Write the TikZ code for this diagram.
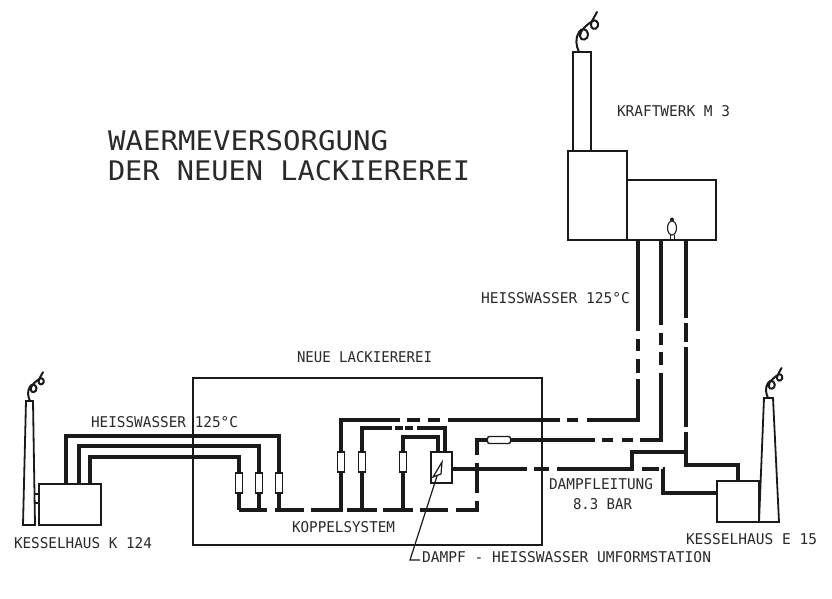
\documentclass[tikz,border=0pt]{standalone}
\usepackage{graphicx}
\usepackage{fontspec}
\setmainfont{DejaVu Sans Mono}
\usetikzlibrary{calc,shapes.geometric}
\definecolor{ink}{HTML}{1A1A1A}
\definecolor{txt}{HTML}{2A2A2A}
\newcommand{\fitlab}[3]{\resizebox{#1pt}{#2pt}{#3}}
\tikzset{
  pipe/.style={draw=ink,line width=4.7pt,line join=miter},
  wall/.style={draw=ink,line width=1.8pt,line join=miter},
  house/.style={wall,fill=white,rectangle,anchor=north west,inner sep=0pt,outer sep=0pt},
  valve/.style={draw=ink,line width=1.4pt,fill=white,rectangle,minimum width=7pt,minimum height=20pt,inner sep=0pt},
  lab/.style={anchor=north west,inner sep=0pt,outer sep=0pt,text=txt},
  smokeplume/.pic={
    \draw[draw=ink,line width=2pt,line cap=round]
      (0,0) .. controls (-3,-6) and (-4,-14) .. (0,-20)
      .. controls (2,-24) and (8,-24) .. (9,-18)
      .. controls (10,-12) and (1,-10) .. (1,-16)
      .. controls (1,-22) and (8,-27) .. (12,-30)
      .. controls (16,-34) and (20,-30) .. (19,-26)
      .. controls (17,-21) and (11,-23) .. (12,-28)
      .. controls (13,-32) and (16,-36) .. (18,-40);
  }
}
\begin{document}
\begin{tikzpicture}[x=1pt,y=-1pt]
\useasboundingbox (0,0) rectangle (832,598);
\fill[white] (0,0) rectangle (832,598);

% named points
\coordinate (k1) at (66,484);  \coordinate (k2) at (79,484);  \coordinate (k3) at (90,484);
\coordinate (c1) at (279,510); \coordinate (c2) at (259,510); \coordinate (c3) at (239,510);
\coordinate (ka) at (638,240); \coordinate (kb) at (661,240); \coordinate (kc) at (686,240);
\coordinate (j341) at (341,510); \coordinate (j362) at (362,510); \coordinate (j403) at (403,510);
\coordinate (um1) at (445,452); \coordinate (um2) at (438,452); \coordinate (um3) at (452,469);
\coordinate (cr) at (477,510);
\coordinate (st) at (686,452);
\coordinate (e1) at (738,481); \coordinate (e2) at (717,493);
\coordinate (dj) at (632,469);

% Neue Lackiererei outline
\node[wall,rectangle,anchor=north west,inner sep=0pt,outer sep=0pt,minimum width=349pt,minimum height=167pt] (lack) at (193,378) {};

% Kesselhaus K 124
\node[house,minimum width=62pt,minimum height=41pt] (k124) at (39,484) {};
\draw[wall,fill=white] (26,401) coordinate (kch) -- (33,401) -- (35,525) -- (23,525) -- cycle;
\draw[wall] (35,494) -- (39,494) (35,503) -- (39,503);
\pic at (30,401) [scale=0.72] {smokeplume};

% Kraftwerk M 3
\node[house,minimum width=18pt,minimum height=99pt] (kwch) at (573,52) {};
\node[house,minimum width=59pt,minimum height=89pt] (kw1) at (568,151) {};
\node[house,minimum width=89pt,minimum height=60pt] (kw2) at (627,180) {};
\pic at (579,52) {smokeplume};
\node[draw=ink,line width=1.1pt,ellipse,minimum width=9pt,minimum height=14pt,inner sep=0pt,fill=white] (fig) at (672,228) {};
\fill[ink] (672,219.5) circle (2pt);
\draw[draw=ink,line width=1pt] (670,234.5) -- (670,240) (674,234.5) -- (674,240);

% Kesselhaus E 15
\node[house,minimum width=42pt,minimum height=41pt] (e15) at (717,481) {};
\draw[wall] (759,522) -- (764,398) -- (773,398) -- (779,522) -- (759,522);
\pic at (768,398) [scale=0.75] {smokeplume};

% pipes
\draw[pipe] (k1) |- (279,436) -- (c1);
\draw[pipe] (k2) |- (259,446) -- (c2);
\draw[pipe] (k3) |- (239,457) -- (c3);

\draw[pipe,dash pattern=on 28pt off 8pt on 29pt off 7pt on 32pt off 4pt on 30pt off 6pt on 30pt off 7pt on 28pt off 8pt on 30pt off 8pt on 30pt off 8pt on 133pt off 7pt on 11pt off 9pt on 11pt off 7pt on 88pt off 8pt on 13pt off 7pt on 12pt off 8pt on 90pt]
  (c3) -- (cr) -- (477,440) -- (661,440) -- (kb);
\draw[pipe,dash pattern=on 149pt off 7pt on 13pt off 8pt on 12pt off 8pt on 112pt off 7pt on 11pt off 9pt on 92pt off 6pt on 14pt off 8pt on 12pt off 8pt on 98pt]
  (j341) |- (638,420) -- (ka);
\draw[pipe,dash pattern=on 112pt off 3pt on 8pt off 2pt on 8pt off 4pt on 60pt]
  (j362) |- (445,428) -- (um1);
\draw[pipe]
  (j403) |- (438,437) -- (um2);
\draw[pipe,dash pattern=on 75pt off 7pt on 15pt off 8pt on 150pt]
  (um3) -- (dj) |- (st);
\draw[pipe,dash pattern=on 78pt off 5pt on 19pt off 5pt on 80pt off 5pt on 200pt]
  (kc) -- (686,465) -- (738,465) -- (e1);
\draw[pipe,dash pattern=on 0pt off 10pt on 17pt off 4pt on 200pt]
  (dj) -- (663,469) |- (e2);

% valves
\node[valve] (v1) at (279,483) {};
\node[valve] (v2) at (259,483) {};
\node[valve] (v3) at (239,483) {};
\node[valve] (v4) at (341,462) {};
\node[valve] (v5) at (362,462) {};
\node[valve] (v6) at (403,462) {};
\node[valve,minimum width=23pt,minimum height=7pt,rounded corners=2pt] (v7) at (499,440) {};

% Umformstation
\node[house,minimum width=21pt,minimum height=31pt] (um) at (431,452) {};
\coordinate (lk) at (420,560);
\draw[draw=ink,line width=1.2pt] (442,462) -- (433,477) -- (441,474) -- cycle;
\draw[draw=ink,line width=1.2pt] (437,476) -- (410,560) -- (lk);

% labels
\node[lab] (t1) at (108,130) {\fitlab{280}{20}{WAERMEVERSORGUNG}};
\node[lab] (t2) at (108,160) {\fitlab{362}{20}{DER NEUEN LACKIEREREI}};
\node[lab] (t3) at (617,105) {\fitlab{113}{11}{KRAFTWERK M 3}};
\node[lab] (t4) at (481,292) {\fitlab{149}{11}{HEISSWASSER 125°C}};
\node[lab] (t5) at (297,351) {\fitlab{135}{11}{NEUE LACKIEREREI}};
\node[lab] (t6) at (91,416) {\fitlab{147}{11}{HEISSWASSER 125°C}};
\node[lab] (t7) at (14,537) {\fitlab{138}{11}{KESSELHAUS K 124}};
\node[lab] (t8) at (292,521) {\fitlab{103}{11}{KOPPELSYSTEM}};
\node[lab] (t9) at (549,478) {\fitlab{104}{11}{DAMPFLEITUNG}};
\node[lab] (t10) at (573,498) {\fitlab{59}{11}{8.3 BAR}};
\node[lab] (t11) at (686,533) {\fitlab{131}{11}{KESSELHAUS E 15}};
\node[lab,anchor=west,xshift=2pt,yshift=3pt] (t12) at (lk) {\fitlab{289}{11}{DAMPF - HEISSWASSER UMFORMSTATION}};
\end{tikzpicture}
\end{document}
